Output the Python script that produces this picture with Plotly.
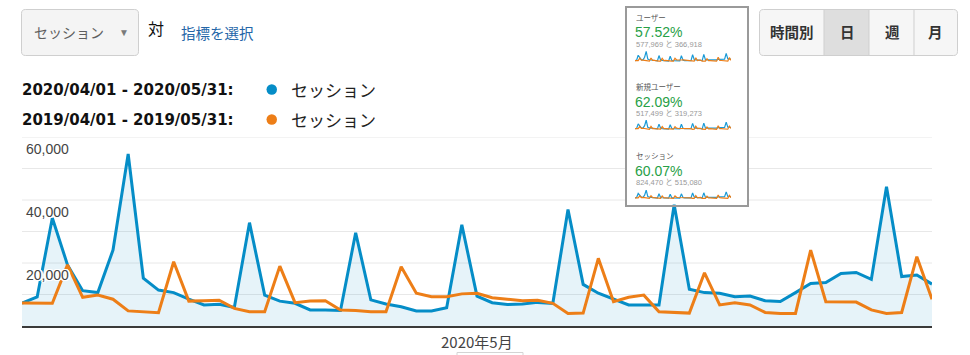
import plotly.graph_objects as go
import pandas as pd

W, H = 970, 355

# ---------------- data ----------------
dates = pd.date_range("2020-04-01", "2020-05-31", freq="D").strftime("%Y-%m-%d").tolist()

sessions_2020 = [7300, 9200, 34300, 19400, 11200, 10600, 24100, 54600, 15200, 11400,
                 10600, 8500, 6700, 6900, 5900, 32800, 9800, 7900, 7200, 5100,
                 5100, 4900, 29600, 8300, 7000, 6100, 4800, 4800, 5800, 32100,
                 9500, 7400, 6800, 7000, 7500, 7200, 37000, 13200, 10400, 8600,
                 6700, 6700, 6700, 38500, 11700, 10600, 10400, 9300, 9500, 8000,
                 7800, 10600, 13500, 13800, 16700, 17000, 14800, 44200, 15700, 16200,
                 13300]

sessions_2019 = [7300, 7300, 7200, 19400, 9100, 9800, 8500, 4800, 4500, 4200,
                 20400, 7900, 8000, 8200, 5600, 4500, 4500, 19000, 7400, 7900,
                 8000, 5100, 4900, 4500, 4500, 18800, 10400, 9300, 9300, 10200,
                 10400, 9000, 8500, 8000, 8200, 7200, 4000, 4100, 21500, 7700,
                 9100, 9800, 4500, 4300, 4100, 16900, 6700, 7400, 6700, 4300,
                 4000, 4000, 24100, 7700, 7600, 7600, 5100, 4000, 4300, 22000,
                 8500]

grid_vals = [10000, 20000, 30000, 40000, 50000, 60000]
y_label_vals = [20000, 40000, 60000]
y_label_text = ["20,000", "40,000", "60,000"]
x_tick_val = "2020-05-01"
x_tick_text = "2020年5月"

range_labels = ["2020/04/01 - 2020/05/31:", "2019/04/01 - 2019/05/31:"]
metric_name = "セッション"
kpi_names = ["ユーザー", "新規ユーザー", "セッション"]
kpi_pcts = ["57.52%", "62.09%", "60.07%"]
kpi_values = ["577,969 と 366,918", "517,499 と 319,273", "824,470 と 515,080"]
buttons = ["時間別", "日", "週", "月"]

# ---------------- style ----------------
BLUE = "#058DC7"
ORANGE = "#ED7E17"
GREEN = "#27a046"
LATIN = "Liberation Sans, Arial, Noto Sans CJK JP, sans-serif"
BOLDF = "DejaVu Sans, Liberation Sans, sans-serif"
CJK = "Noto Sans CJK JP, Liberation Sans, sans-serif"


def px(x):
    return x / W


def py(y):
    return 1 - y / H


def rrect(x0, y0, x1, y1, r):
    def P(x, y):
        return f"{px(x):.5f},{py(y):.5f}"
    return (f"M {P(x0 + r, y0)} L {P(x1 - r, y0)} Q {P(x1, y0)} {P(x1, y0 + r)} "
            f"L {P(x1, y1 - r)} Q {P(x1, y1)} {P(x1 - r, y1)} L {P(x0 + r, y1)} "
            f"Q {P(x0, y1)} {P(x0, y1 - r)} L {P(x0, y0 + r)} Q {P(x0, y0)} {P(x0 + r, y0)} Z")


fig = go.Figure()

# main chart
fig.add_trace(go.Scatter(x=dates, y=sessions_2020, mode="lines",
                         line=dict(color=BLUE, width=3), fill="tozeroy",
                         fillcolor="rgba(5,141,199,0.10)", hoverinfo="skip",
                         showlegend=False))
fig.add_trace(go.Scatter(x=dates, y=sessions_2019, mode="lines",
                         line=dict(color=ORANGE, width=3), hoverinfo="skip",
                         showlegend=False))

# sparklines in the KPI box
spark_y = [(51, 62), (120, 130), (190, 199)]
for k, (ya, yb) in enumerate(spark_y):
    n = k + 2
    fig.add_trace(go.Scatter(x=dates, y=sessions_2020, mode="lines",
                             line=dict(color="#1a9ad6", width=1.2),
                             xaxis=f"x{n}", yaxis=f"y{n}", hoverinfo="skip",
                             showlegend=False))
    fig.add_trace(go.Scatter(x=dates, y=sessions_2019, mode="lines",
                             line=dict(color=ORANGE, width=1.2),
                             xaxis=f"x{n}", yaxis=f"y{n}", hoverinfo="skip",
                             showlegend=False))

layout = dict(
    width=W, height=H,
    margin=dict(l=0, r=0, t=0, b=0),
    paper_bgcolor="white", plot_bgcolor="rgba(0,0,0,0)",
    showlegend=False,
    xaxis=dict(domain=[px(22), px(932)], type="date", range=[dates[0], dates[-1]],
               showgrid=False, zeroline=False, showticklabels=False, ticks="",
               showline=True, linecolor="#3a3a3a", linewidth=2, fixedrange=True),
    yaxis=dict(domain=[py(326), py(137)], range=[0, 60000], showgrid=False,
               zeroline=False, showticklabels=False, ticks="", fixedrange=True),
)
for k, (ya, yb) in enumerate(spark_y):
    n = k + 2
    layout[f"xaxis{n}"] = dict(domain=[px(635), px(731)], type="date",
                               range=[dates[0], dates[-1]], visible=False,
                               anchor=f"y{n}", fixedrange=True)
    layout[f"yaxis{n}"] = dict(domain=[py(yb), py(ya)], range=[0, 56000],
                               visible=False, anchor=f"x{n}", fixedrange=True)
fig.update_layout(**layout)

shapes = []
# gridlines (interrupted by the KPI box)
for v in grid_vals:
    segs = [(22, 932)] if v < 40000 else [(22, 625), (749, 932)]
    for a, b in segs:
        shapes.append(dict(type="line", xref="paper", yref="y", x0=px(a), x1=px(b),
                           y0=v, y1=v, line=dict(color="#e8e8e8", width=1),
                           layer="below"))

# dropdown
shapes.append(dict(type="path", xref="paper", yref="paper",
                   path=rrect(21.5, 9.5, 138.5, 55.5, 4),
                   fillcolor="#f4f4f4", line=dict(color="#cfcfcf", width=1)))
# button group
shapes.append(dict(type="path", xref="paper", yref="paper",
                   path=rrect(759.5, 9.5, 957.5, 55.5, 4),
                   fillcolor="#f6f6f6", line=dict(color="#cfcfcf", width=1)))
shapes.append(dict(type="rect", xref="paper", yref="paper",
                   x0=px(824), x1=px(869), y0=py(55), y1=py(10),
                   fillcolor="#dedede", line=dict(width=0)))
for xd in [824, 869, 914]:
    shapes.append(dict(type="line", xref="paper", yref="paper",
                       x0=px(xd), x1=px(xd), y0=py(55), y1=py(10),
                       line=dict(color="#cfcfcf", width=1)))
# legend dots
for yy, col in [(89.5, BLUE), (119.5, ORANGE)]:
    shapes.append(dict(type="circle", xref="paper", yref="paper",
                       x0=px(266.5), x1=px(277), y0=py(yy + 5.25), y1=py(yy - 5.25),
                       fillcolor=col, line=dict(width=0)))
# KPI box border
shapes.append(dict(type="rect", xref="paper", yref="paper",
                   x0=px(626), x1=px(748), y0=py(206), y1=py(7),
                   fillcolor="rgba(0,0,0,0)", line=dict(color="#9a9a9a", width=2),
                   layer="above"))
# partial element at bottom
shapes.append(dict(type="rect", xref="paper", yref="paper",
                   x0=px(457), x1=px(523), y0=py(362), y1=py(352.5),
                   fillcolor="white", line=dict(color="#d4d4d4", width=1)))
fig.update_layout(shapes=shapes)

ann = []


def add_text(text, x, y, size, color, family=LATIN, weight="normal",
             xanchor="left", yanchor="middle", **kw):
    d = dict(text=text, x=x, y=y, xref=kw.pop("xref", "paper"), yref=kw.pop("yref", "paper"),
             showarrow=False, xanchor=xanchor, yanchor=yanchor,
             font=dict(size=size, color=color, family=family, weight=weight))
    d.update(kw)
    ann.append(d)


# y labels (with white halo)
halo = "1px 1px 0 #fff, -1px -1px 0 #fff, 1px -1px 0 #fff, -1px 1px 0 #fff, 2px 0 0 #fff, -2px 0 0 #fff"
for v, t in zip(y_label_vals, y_label_text):
    ann.append(dict(text=t, x=px(24), xref="paper", y=v, yref="y", yshift=-12,
                    showarrow=False, xanchor="left", yanchor="middle",
                    font=dict(size=14, color="#444444", family=LATIN, shadow=halo)))
# x label
add_text(x_tick_text, x_tick_val, py(341), 15, "#444444", family=CJK,
         xanchor="center", xref="x")

# top-left controls
add_text(metric_name, px(32), py(32.5), 14, "#5e5e5e", family=CJK)
add_text("▼", px(124), py(33), 10, "#7a7a7a", xanchor="center")
add_text("対", px(146), py(27.5), 16, "#111111", family=CJK)
add_text("指標を選択", px(179), py(32.5), 14.5, "#2466a8", family=CJK)

# legend rows
for i, (lab, yy) in enumerate(zip(range_labels, [89.5, 119.5])):
    add_text(lab, px(20), py(yy), 15, "#111111", family=BOLDF, weight="bold")
    add_text(metric_name, px(289), py(yy - 0.5), 17, "#222222", family=CJK)

# buttons
for lab, xc in zip(buttons, [792, 847, 892, 935]):
    add_text(lab, px(xc), py(32), 14.5, "#333333", family=CJK, weight="bold",
             xanchor="center")

# KPI box texts
for k in range(3):
    base = [17, 86, 155][k]
    add_text(kpi_names[k], px(634), py(base), 7.5, "#555555", family=CJK)
    add_text(kpi_pcts[k], px(633), py(base + 15.5), 14, GREEN)
    add_text(kpi_values[k], px(634), py(base + 27.5), 7.5, "#999999")

fig.update_layout(annotations=ann)

fig.write_html("out.html")
